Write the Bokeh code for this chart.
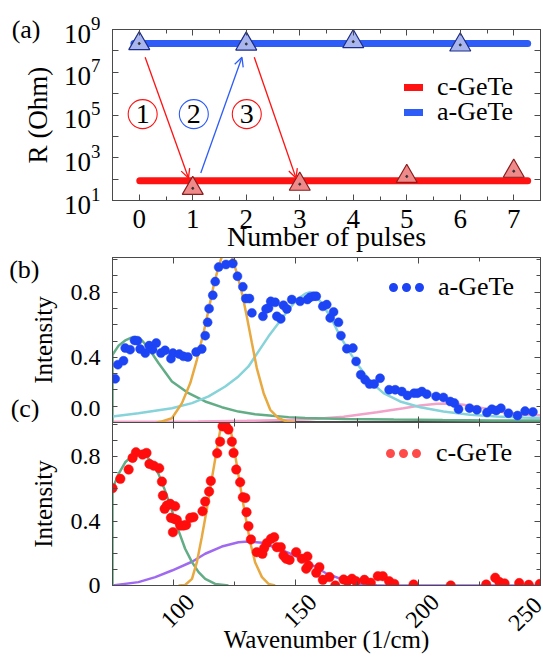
import math
from bokeh.plotting import figure
from bokeh.layouts import column
from bokeh.models import (FixedTicker, LinearAxis, LogAxis, Legend, LegendItem,
                          Arrow, OpenHead, Range1d, ColumnDataSource)
from bokeh.core.properties import value
from bokeh.embed import file_html
from bokeh.resources import INLINE

FONT = "Liberation Serif"
FRAME = "#4a4a4a"

# ---------------- panel (a) data ----------------
pulse_ticks = [0, 1, 2, 3, 4, 5, 6, 7]
pulse_minor = [-0.5, 0.5, 1.5, 2.5, 3.5, 4.5, 5.5, 6.5, 7.5]
R_ticks = [1e1, 1e3, 1e5, 1e7, 1e9]
R_minor = [1e2, 1e4, 1e6, 1e8]
a_pulses = [0, 2, 4, 6]
a_R = [2.2e8, 2.1e8, 2.7e8, 1.9e8]
c_pulses = [1, 3, 5, 7]
c_R = [37, 58, 134, 235]
a_level_x = [-0.1, 7.26]
a_level_R = [2.2e8, 2.2e8]
c_level_x = [0.01, 7.26]
c_level_R = [83, 83]
arrow_x0 = [0.11, 1.15, 2.15]
arrow_R0 = [5.0e7, 195, 5.0e7]
arrow_x1 = [0.92, 1.92, 2.93]
arrow_R1 = [112, 5.0e7, 112]
step_x = [0.064, 1.02, 2.01]
step_R = [1.1e5, 1.1e5, 1.1e5]
step_labels = ["1", "2", "3"]

# ---------------- panel (b) data: a-GeTe ----------------
aGeTe_wn = [76.1, 77.2, 79.5, 80.2, 82.2, 84.0, 85.2, 86.3, 88.4, 90.0, 91.4, 92.9, 94.8, 96.5,
            98.9, 99.7, 102.3, 104.0, 105.8, 109.2, 111.5, 112.9, 113.9, 114.5, 116.0, 117.0,
            118.4, 121.4, 124.2, 126.1, 128.3, 129.5, 131.0, 132.0, 136.5, 137.8, 138.8, 139.7,
            141.5, 142.2, 143.8, 144.9, 146.3, 148.3, 151.7, 154.7, 155.8, 157.2, 158.3, 161.0,
            162.6, 164.0, 165.4, 167.4, 168.4, 170.8, 173.3, 174.6, 176.5, 178.3, 180.1, 182.0,
            184.4, 188.1, 190.6, 193.3, 195.6, 198.3, 199.7, 201.5, 203.5, 207.3, 210.3, 213.1,
            214.8, 216.5, 221.0, 224.0, 228.1, 230.1, 231.9, 233.8, 236.9, 240.6, 243.7, 246.9]
aGeTe_int = [0.268, 0.355, 0.379, 0.457, 0.447, 0.504, 0.502, 0.451, 0.426, 0.472, 0.447, 0.488,
             0.426, 0.443, 0.392, 0.426, 0.420, 0.406, 0.402, 0.433, 0.451, 0.533, 0.615, 0.699,
             0.781, 0.865, 0.954, 0.970, 0.976, 0.898, 0.833, 0.761, 0.761, 0.673, 0.652, 0.697,
             0.703, 0.744, 0.738, 0.652, 0.636, 0.720, 0.697, 0.755, 0.744, 0.755, 0.769, 0.775,
             0.775, 0.713, 0.724, 0.642, 0.679, 0.615, 0.533, 0.453, 0.457, 0.375, 0.293, 0.262,
             0.236, 0.236, 0.272, 0.201, 0.201, 0.190, 0.166, 0.180, 0.180, 0.190, 0.174, 0.160,
             0.154, 0.129, 0.119, 0.082, 0.088, 0.078, 0.061, 0.082, 0.074, 0.088, 0.057, 0.043,
             0.070, 0.065]
b_green_wn = [75, 75, 77.5, 80.2, 82.5, 84.5, 87.0, 89.7, 93.8, 99.3, 106.1, 112.9, 119.7, 126.5,
              133.3, 140.2, 147.0, 153.8, 170, 190, 210, 230, 250]
b_green = [0.0, 0.416, 0.472, 0.504, 0.520, 0.525, 0.505, 0.457, 0.365, 0.252, 0.180, 0.129,
           0.094, 0.067, 0.051, 0.041, 0.033, 0.028, 0.022, 0.018, 0.015, 0.013, 0.012]
b_orange_wn = [93, 95.2, 99.3, 103.4, 106.8, 109.5, 112.2, 114.3, 116.3, 118.4, 120.0, 121.8,
               123.6, 125.8, 127.9, 129.9, 132.0, 134.0, 136.8, 139.5, 142.9, 146.3, 150]
b_orange = [0.0, 0.006, 0.026, 0.119, 0.242, 0.385, 0.550, 0.693, 0.837, 0.960, 1.030, 1.060,
            1.030, 0.919, 0.796, 0.652, 0.488, 0.334, 0.180, 0.078, 0.026, 0.006, 0.0]
b_cyan_wn = [75, 85.6, 99.3, 107.5, 114.3, 121.1, 126.5, 130.6, 134.7, 138.8, 142.9, 147.0, 150.4,
             153.8, 155.8, 157.5, 159.9, 164.0, 168.1, 172.2, 176.3, 180.4, 185.8, 192.6, 200.8,
             210.3, 221.2, 232.1, 243.0, 250]
b_cyan = [0.037, 0.057, 0.088, 0.119, 0.160, 0.221, 0.283, 0.344, 0.437, 0.529, 0.611, 0.693,
          0.755, 0.791, 0.800, 0.790, 0.744, 0.652, 0.529, 0.426, 0.334, 0.252, 0.180, 0.129,
          0.094, 0.067, 0.047, 0.037, 0.030, 0.028]
b_pink_wn = [75, 110, 130, 145, 155.8, 169.5, 183.1, 194.0, 200.8, 207.6, 213.1, 218.5, 226.7,
             234.9, 243.0, 250]
b_pink = [0.004, 0.006, 0.010, 0.015, 0.020, 0.035, 0.063, 0.088, 0.104, 0.115, 0.117, 0.109,
          0.088, 0.063, 0.048, 0.045]

# ---------------- panel (c) data: c-GeTe ----------------
cGeTe_wn = [75.0, 78.2, 81.6, 83.2, 84.6, 87.3, 88.9, 90.1, 91.8, 94.1, 95.2, 95.6, 96.3, 97.2,
            98.6, 98.9, 99.7, 100.2, 100.6, 101.3, 102.7, 104.0, 105.1, 106.8, 108.1, 111.8,
            112.9, 114.5, 115.2, 117.8, 119.0, 120.0, 121.4, 122.4, 123.8, 124.5, 125.6, 127.2,
            128.3, 129.3, 129.8, 130.6, 131.6, 134.0, 136.3, 137.0, 138.1, 139.8, 141.1, 142.2,
            143.8, 144.9, 146.0, 147.4, 150.1, 152.4, 154.2, 154.7, 155.1, 158.3, 159.6, 161.0,
            163.7, 166.1, 169.5, 171.1, 172.9, 174.5, 178.0, 180.6, 183.5, 185.5, 188.1, 190.2,
            198.1, 213.3, 227.8, 231.5, 233.2, 235.3, 241.3, 245.2, 249.7]
cGeTe_int = [0.604, 0.662, 0.720, 0.792, 0.827, 0.813, 0.823, 0.755, 0.744, 0.728, 0.645, 0.558,
             0.476, 0.496, 0.507, 0.420, 0.331, 0.414, 0.492, 0.407, 0.372, 0.372, 0.376, 0.420,
             0.424, 0.461, 0.521, 0.583, 0.649, 0.821, 0.893, 0.988, 0.986, 0.968, 0.893, 0.823,
             0.720, 0.641, 0.548, 0.544, 0.455, 0.368, 0.286, 0.207, 0.197, 0.232, 0.263, 0.290,
             0.300, 0.238, 0.238, 0.186, 0.166, 0.159, 0.207, 0.166, 0.104, 0.180, 0.124, 0.079,
             0.114, 0.035, 0.052, 0.000, 0.037, 0.027, 0.042, 0.027, 0.035, 0.017, 0.058, 0.058,
             0.027, 0.010, 0.006, 0.000, 0.006, 0.048, 0.021, 0.013, 0.015, 0.004, 0.009]
c_green_wn = [75, 75, 77.5, 80.2, 82.9, 85.6, 88.4, 91.1, 93.8, 96.5, 99.3, 102.0, 104.7, 107.5,
              110.2, 112.9, 117.0, 122.4]
c_green = [0.0, 0.600, 0.693, 0.765, 0.802, 0.821, 0.811, 0.765, 0.693, 0.589, 0.465, 0.341,
           0.228, 0.145, 0.083, 0.041, 0.010, 0.0]
c_orange_wn = [102, 104.7, 107.5, 109.5, 111.5, 113.6, 115.6, 117.7, 119.0, 120.0, 121.2, 122.4,
               123.5, 125.2, 127.2, 129.3, 131.3, 133.3, 136.1, 138.8, 141.5]
c_orange = [0.0, 0.003, 0.041, 0.145, 0.300, 0.476, 0.662, 0.848, 0.961, 1.009, 1.040, 1.010,
            0.951, 0.806, 0.620, 0.434, 0.269, 0.145, 0.052, 0.010, 0.0]
c_purple_wn = [75, 85.6, 92.5, 99.3, 107.7, 112.9, 119.7, 126.5, 130.6, 136.1, 142.9, 149.7,
               157.0, 162.6, 169.5, 176.3, 183.1, 200, 250]
c_purple = [0.0, 0.021, 0.052, 0.093, 0.149, 0.197, 0.242, 0.269, 0.273, 0.265, 0.228, 0.186,
            0.124, 0.073, 0.035, 0.010, 0.002, 0.0, 0.0]

wn_ticks = [100, 150, 200, 250]
wn_inner_labels = [100, 150, 200]
wn_minor = [75, 125, 175, 225]
int_ticks = [0.0, 0.4, 0.8]
int_all = [0.0, 0.1, 0.2, 0.3, 0.4, 0.5, 0.6, 0.7, 0.8, 0.9, 1.0]
int_minor = [0.1, 0.2, 0.3, 0.5, 0.6, 0.7, 0.9, 1.0]
# (b): its "0.0" label sits a little above the axis bottom, as in the source
b_int_label_pos = [0.088, 0.4, 0.8]
b_int_labels = ["0.0", "0.4", "0.8"]

# ---------------- colours ----------------
RED_LINE = "#ff1212"
BLUE_LINE = "#2d5cf7"
BLUE_DOT = "#1c44f5"
RED_DOT = "#ff0d0d"
GREEN = "#62ad86"
ORANGE = "#e8a941"
CYAN = "#86d3d9"
PINK = "#f2a3c9"
PURPLE = "#a06af0"


def style_axis(ax, size):
    ax.axis_line_color = FRAME
    ax.major_tick_line_color = FRAME
    ax.minor_tick_line_color = FRAME
    ax.major_tick_in = 6
    ax.major_tick_out = 0
    ax.minor_tick_in = 4
    ax.minor_tick_out = 0
    ax.major_label_text_font = FONT
    ax.major_label_text_font_size = size
    ax.major_label_text_color = "black"
    ax.axis_label_text_font = FONT
    ax.axis_label_text_font_style = "normal"
    ax.axis_label_text_color = "black"


def bare(ax):
    ax.axis_line_color = None
    ax.major_tick_line_color = None
    ax.minor_tick_line_color = None
    ax.major_tick_in = 0
    ax.major_tick_out = 0
    ax.minor_tick_in = 0
    ax.minor_tick_out = 0


def hide_labels(ax, ticks):
    style_axis(ax, "1px")
    ax.major_label_overrides = {t: "" for t in ticks}
    ax.major_label_standoff = 0
    ax.axis_label_standoff = 0


def mirror(p, cls, ticks, minor, side):
    ax = cls(ticker=FixedTicker(ticks=ticks, minor_ticks=minor))
    hide_labels(ax, ticks)
    p.add_layout(ax, side)
    return ax


def panel_tag(p, cls, pos, texts, standoff):
    # panel letters, drawn as tick labels of a bare axis in the left margin
    ax = cls(ticker=FixedTicker(ticks=pos, minor_ticks=[]),
             major_label_overrides=dict(zip(pos, texts)))
    bare(ax)
    ax.major_label_standoff = standoff
    ax.major_label_text_font = FONT
    ax.major_label_text_font_size = "26px"
    ax.major_label_text_color = "black"
    p.add_layout(ax, "left")


def base_fig(height, xr, yr, top, bottom, **kw):
    p = figure(width=543, height=height, x_range=xr, y_range=yr,
               output_backend="svg", toolbar_location=None,
               min_border_left=112, min_border_right=3,
               min_border_top=top, min_border_bottom=bottom, **kw)
    p.grid.visible = False
    p.outline_line_color = FRAME
    p.background_fill_color = "white"
    p.border_fill_color = "white"
    return p


def one_legend(p, renderer, label, loc, gw, standoff, size):
    lg = Legend(items=[LegendItem(label=label, renderers=[renderer])], location=loc,
                glyph_width=gw, glyph_height=30, label_height=30, label_standoff=standoff,
                padding=0, margin=0, spacing=0, border_line_alpha=0,
                background_fill_alpha=0, label_text_font=FONT,
                label_text_font_size=size, label_text_color="black")
    p.add_layout(lg)


# ================= panel (a) =================
pa = base_fig(254, Range1d(-0.5, 7.5), Range1d(10, 1e9), 29, 53, y_axis_type="log")
pa.xaxis.ticker = FixedTicker(ticks=pulse_ticks, minor_ticks=pulse_minor)
pa.yaxis.ticker = FixedTicker(ticks=R_ticks, minor_ticks=R_minor)
for ax in pa.xaxis + pa.yaxis:
    style_axis(ax, "27px")
pa.yaxis.minor_tick_in = 6
pa.xaxis.axis_label = "Number of pulses"
pa.xaxis.axis_label_text_font_size = "28px"
pa.xaxis.major_label_standoff = 9
pa.xaxis.axis_label_standoff = -10
pa.yaxis.axis_label = "R (Ohm)"
pa.yaxis.axis_label_text_font_size = "27px"
pa.yaxis.major_label_standoff = 12
pa.yaxis.axis_label_standoff = 8
mirror(pa, LinearAxis, pulse_ticks, pulse_minor, "above")
rax = mirror(pa, LogAxis, R_ticks, R_minor, "right")
rax.minor_tick_in = 6
panel_tag(pa, LogAxis, [1e9], ["(a)"], -20)

r_blue = pa.line(a_level_x, a_level_R, line_color=BLUE_LINE, line_width=7, line_cap="round")
r_red = pa.line(c_level_x, c_level_R, line_color=RED_LINE, line_width=7, line_cap="round")

arrow_colors = [RED_LINE, BLUE_LINE, RED_LINE]
for x0, y0, x1, y1, col in zip(arrow_x0, arrow_R0, arrow_x1, arrow_R1, arrow_colors):
    pa.add_layout(Arrow(end=OpenHead(size=9, line_color=col, line_width=1.3),
                        x_start=x0, y_start=y0, x_end=x1, y_end=y1,
                        line_color=col, line_width=1.3))

pa.scatter(step_x, step_R, marker="circle", size=29, fill_alpha=0,
           line_color=arrow_colors, line_width=1.1)
pa.text(x=step_x, y=step_R, text=step_labels, text_font=value(FONT), text_font_size="28px",
        text_align="center", text_baseline="middle", text_color="black")

pa.scatter(a_pulses, a_R, marker="triangle", size=21, fill_color="#a9b6ee",
           line_color="#1d2c86", line_width=1.2)
pa.scatter(c_pulses, c_R, marker="triangle", size=21, fill_color="#ef8a8a",
           line_color="#8a1c1c", line_width=1.2)
pa.scatter(a_pulses + c_pulses, a_R + c_R, marker="circle", size=2, color="#333333")

one_legend(pa, r_red, "c-GeTe", (292, 98), 19, 14, "26px")
one_legend(pa, r_blue, "a-GeTe", (292, 73), 19, 14, "26px")

# ================= panel (b) =================
pb = base_fig(168, Range1d(75, 250), Range1d(0, 1.013), 3, 0)
pb.extra_x_ranges = {"legend_only": Range1d(-10, -9)}
pb.xaxis.ticker = FixedTicker(ticks=wn_ticks, minor_ticks=wn_minor)
hide_labels(pb.xaxis[0], wn_ticks)
pb.yaxis.ticker = FixedTicker(ticks=b_int_label_pos, minor_ticks=int_all)
style_axis(pb.yaxis[0], "24px")
pb.yaxis.major_tick_in = 0
pb.yaxis.minor_tick_in = 5
pb.yaxis.major_label_overrides = dict(zip(b_int_label_pos, b_int_labels))
pb.yaxis.major_label_standoff = 12
pb.yaxis.axis_label = "Intensity"
pb.yaxis.axis_label_text_font_size = "25px"
pb.yaxis.axis_label_standoff = 11
panel_tag(pb, LinearAxis, [0.945, 0.088], ["(b)", "(c)"], -13)
mirror(pb, LinearAxis, wn_ticks, wn_minor, "above")
mirror(pb, LinearAxis, int_ticks, int_minor, "right")

src_b = ColumnDataSource(dict(wn=aGeTe_wn, inten=aGeTe_int))
pb.line(b_pink_wn, b_pink, line_color=PINK, line_width=2.5)
pb.line(b_green_wn, b_green, line_color=GREEN, line_width=2.5)
pb.line(b_cyan_wn, b_cyan, line_color=CYAN, line_width=2.5)
pb.line(b_orange_wn, b_orange, line_color=ORANGE, line_width=2.5)
pb.scatter("wn", "inten", source=src_b, marker="circle", size=9, fill_color=BLUE_DOT,
           line_color=BLUE_DOT, line_width=0.5)
# dotted-line proxy used only for the legend key (drawn off-screen)
leg_b = pb.line("wn", "inten", source=src_b, x_range_name="legend_only",
                line_color=BLUE_DOT, line_width=9, line_dash="0 13", line_dash_offset=9,
                line_cap="round")
one_legend(pb, leg_b, "a-GeTe", (277, 120), 36, 13, "26px")

# ================= panel (c) =================
pc = base_fig(237, Range1d(75, 250), Range1d(0, 1.012), 0, 74)
# second scale, shifted by 7 cm-1, used only to centre the slanted tick labels under their ticks
pc.extra_x_ranges = {"legend_only": Range1d(-10, -9), "tick_text": Range1d(68, 243)}
pc.xaxis.ticker = FixedTicker(ticks=wn_ticks, minor_ticks=wn_minor)
style_axis(pc.xaxis[0], "24px")
pc.xaxis.major_label_orientation = math.pi / 4
pc.xaxis.major_label_standoff = 16
pc.xaxis.major_label_overrides = {t: "" for t in wn_inner_labels}
lab_c = LinearAxis(x_range_name="tick_text", ticker=FixedTicker(ticks=wn_inner_labels, minor_ticks=[]))
bare(lab_c)
lab_c.major_label_orientation = math.pi / 4
lab_c.major_label_standoff = -42
lab_c.major_label_text_font = FONT
lab_c.major_label_text_font_size = "24px"
lab_c.major_label_text_color = "black"
lab_c.axis_label = "Wavenumber (1/cm)"
lab_c.axis_label_text_font = FONT
lab_c.axis_label_text_font_style = "normal"
lab_c.axis_label_text_font_size = "25px"
lab_c.axis_label_text_color = "black"
lab_c.axis_label_standoff = -12
pc.add_layout(lab_c, "below")
pc.yaxis.ticker = FixedTicker(ticks=int_ticks, minor_ticks=int_minor)
style_axis(pc.yaxis[0], "24px")
pc.yaxis.minor_tick_in = 5
pc.yaxis.major_tick_in = 5
pc.yaxis.major_label_standoff = 12
pc.yaxis.axis_label = "Intensity"
pc.yaxis.axis_label_text_font_size = "25px"
pc.yaxis.axis_label_standoff = 11
mirror(pc, LinearAxis, wn_ticks, wn_minor, "above")
mirror(pc, LinearAxis, int_ticks, int_minor, "right")

src_c = ColumnDataSource(dict(wn=cGeTe_wn, inten=cGeTe_int))
pc.line(c_purple_wn, c_purple, line_color=PURPLE, line_width=2.5)
pc.line(c_green_wn, c_green, line_color=GREEN, line_width=2.5)
pc.line(c_orange_wn, c_orange, line_color=ORANGE, line_width=2.5)
pc.scatter("wn", "inten", source=src_c, marker="circle", size=9.5, fill_color=RED_DOT,
           line_color=RED_DOT, line_width=0.5)
leg_c = pc.line("wn", "inten", source=src_c, x_range_name="legend_only",
                line_color=RED_DOT, line_alpha=0.75, line_width=9, line_dash="0 13",
                line_dash_offset=9, line_cap="round")
one_legend(pc, leg_c, "c-GeTe", (274, 117), 36, 14, "26px")

layout = column(pa, pb, pc, spacing=0)
open("out.html", "w").write(file_html(layout, INLINE))
